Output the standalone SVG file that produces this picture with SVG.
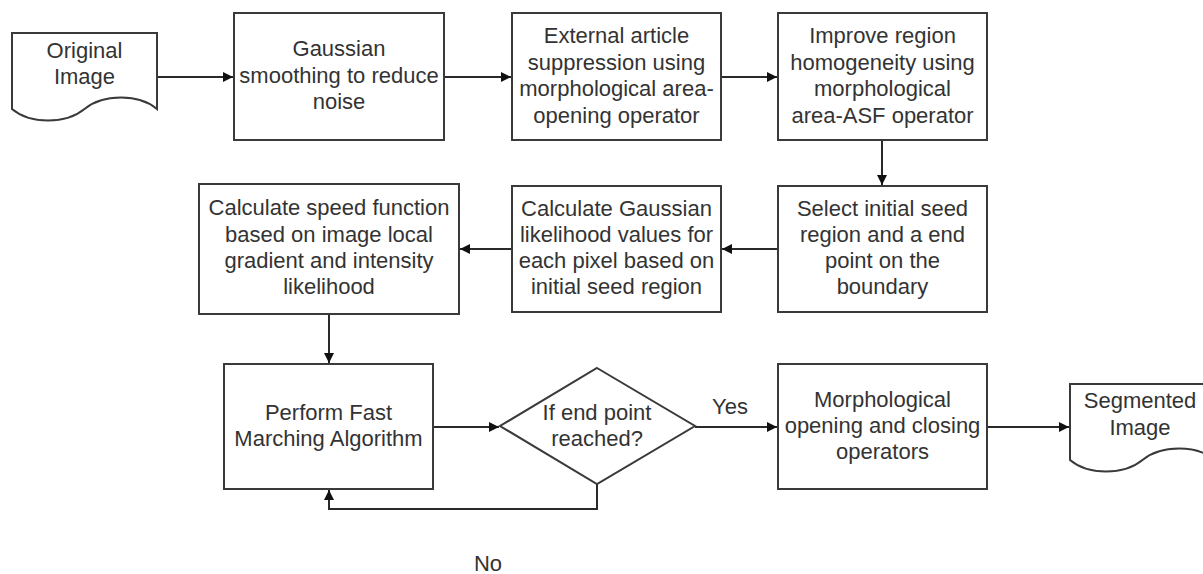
<svg xmlns="http://www.w3.org/2000/svg" width="1203" height="574" viewBox="0 0 1203 574">
<defs>
<style>
.box{fill:#fff;stroke:#3a3a3a;stroke-width:2}
.t{font-family:"Liberation Sans",Arial,sans-serif;font-size:22px;fill:#333;text-anchor:middle}
.c{fill:none;stroke:#2a2a2a;stroke-width:2}
</style>
<marker id="ah" viewBox="0 0 10 10" refX="10" refY="5" markerWidth="11" markerHeight="10" markerUnits="userSpaceOnUse" orient="auto">
<path d="M0,0 L10,5 L0,10 Z" fill="#111"/>
</marker>
</defs>
<rect width="1203" height="574" fill="#fff"/>
<g id="connectors">
<path class="c" d="M157,77 H233" marker-end="url(#ah)"/>
<path class="c" d="M444,77 H511" marker-end="url(#ah)"/>
<path class="c" d="M721,77 H777" marker-end="url(#ah)"/>
<path class="c" d="M882,140 V185" marker-end="url(#ah)"/>
<path class="c" d="M778,249 H722" marker-end="url(#ah)"/>
<path class="c" d="M512,249 H460" marker-end="url(#ah)"/>
<path class="c" d="M329,314 V363" marker-end="url(#ah)"/>
<path class="c" d="M433,427 H499" marker-end="url(#ah)"/>
<path class="c" d="M695,427 H777" marker-end="url(#ah)"/>
<path class="c" d="M987,427 H1069" marker-end="url(#ah)"/>
<path class="c" d="M597,484 V509 H329 V490" marker-end="url(#ah)"/>
<text class="t" x="730" y="414">Yes</text>
<text class="t" x="488" y="571">No</text>
</g>
<g id="original">
<path class="box" d="M12,33 H157 V109 C139,93.7 103,93.7 84.5,109 C66,124.3 30,124.3 12,109 Z"/>
<text class="t" x="84.5" y="58">Original</text>
<text class="t" x="84.5" y="84">Image</text>
</g>
<g id="gaussian">
<rect class="box" x="234" y="13" width="210" height="127"/>
<text class="t" x="339" y="56">Gaussian</text>
<text class="t" x="339" y="83">smoothing to reduce</text>
<text class="t" x="339" y="109">noise</text>
</g>
<g id="external">
<rect class="box" x="512" y="13" width="209" height="127"/>
<text class="t" x="616.5" y="43">External article</text>
<text class="t" x="616.5" y="70">suppression using</text>
<text class="t" x="616.5" y="96">morphological area-</text>
<text class="t" x="616.5" y="123">opening operator</text>
</g>
<g id="improve">
<rect class="box" x="778" y="13" width="209" height="127"/>
<text class="t" x="882.5" y="43">Improve region</text>
<text class="t" x="882.5" y="70">homogeneity using</text>
<text class="t" x="882.5" y="96">morphological</text>
<text class="t" x="882.5" y="123">area-ASF operator</text>
</g>
<g id="select">
<rect class="box" x="778" y="186" width="209" height="126"/>
<text class="t" x="882.5" y="216">Select initial seed</text>
<text class="t" x="882.5" y="242">region and a end</text>
<text class="t" x="882.5" y="268">point on the</text>
<text class="t" x="882.5" y="294">boundary</text>
</g>
<g id="likelihood">
<rect class="box" x="512" y="186" width="209" height="126"/>
<text class="t" x="616.5" y="216">Calculate Gaussian</text>
<text class="t" x="616.5" y="242">likelihood values for</text>
<text class="t" x="616.5" y="268">each pixel based on</text>
<text class="t" x="616.5" y="294">initial seed region</text>
</g>
<g id="speed">
<rect class="box" x="199" y="184" width="260" height="130"/>
<text class="t" x="329" y="215">Calculate speed function</text>
<text class="t" x="329" y="242">based on image local</text>
<text class="t" x="329" y="268">gradient and intensity</text>
<text class="t" x="329" y="294">likelihood</text>
</g>
<g id="fastmarching">
<rect class="box" x="224" y="364" width="209" height="125"/>
<text class="t" x="328.5" y="420">Perform Fast</text>
<text class="t" x="328.5" y="446">Marching Algorithm</text>
</g>
<g id="decision">
<path class="box" d="M597,368 L695,426 L597,484 L500,426 Z"/>
<text class="t" x="597" y="420">If end point</text>
<text class="t" x="597" y="446">reached?</text>
</g>
<g id="morph">
<rect class="box" x="778" y="364" width="209" height="125"/>
<text class="t" x="882.5" y="407">Morphological</text>
<text class="t" x="882.5" y="433">opening and closing</text>
<text class="t" x="882.5" y="459">operators</text>
</g>
<g id="segmented">
<path class="box" d="M1070,384 H1215 V460 C1197,444.7 1161,444.7 1142.5,460 C1124,475.3 1088,475.3 1070,460 Z"/>
<text class="t" x="1140" y="408">Segmented</text>
<text class="t" x="1140" y="435">Image</text>
</g>
</svg>
